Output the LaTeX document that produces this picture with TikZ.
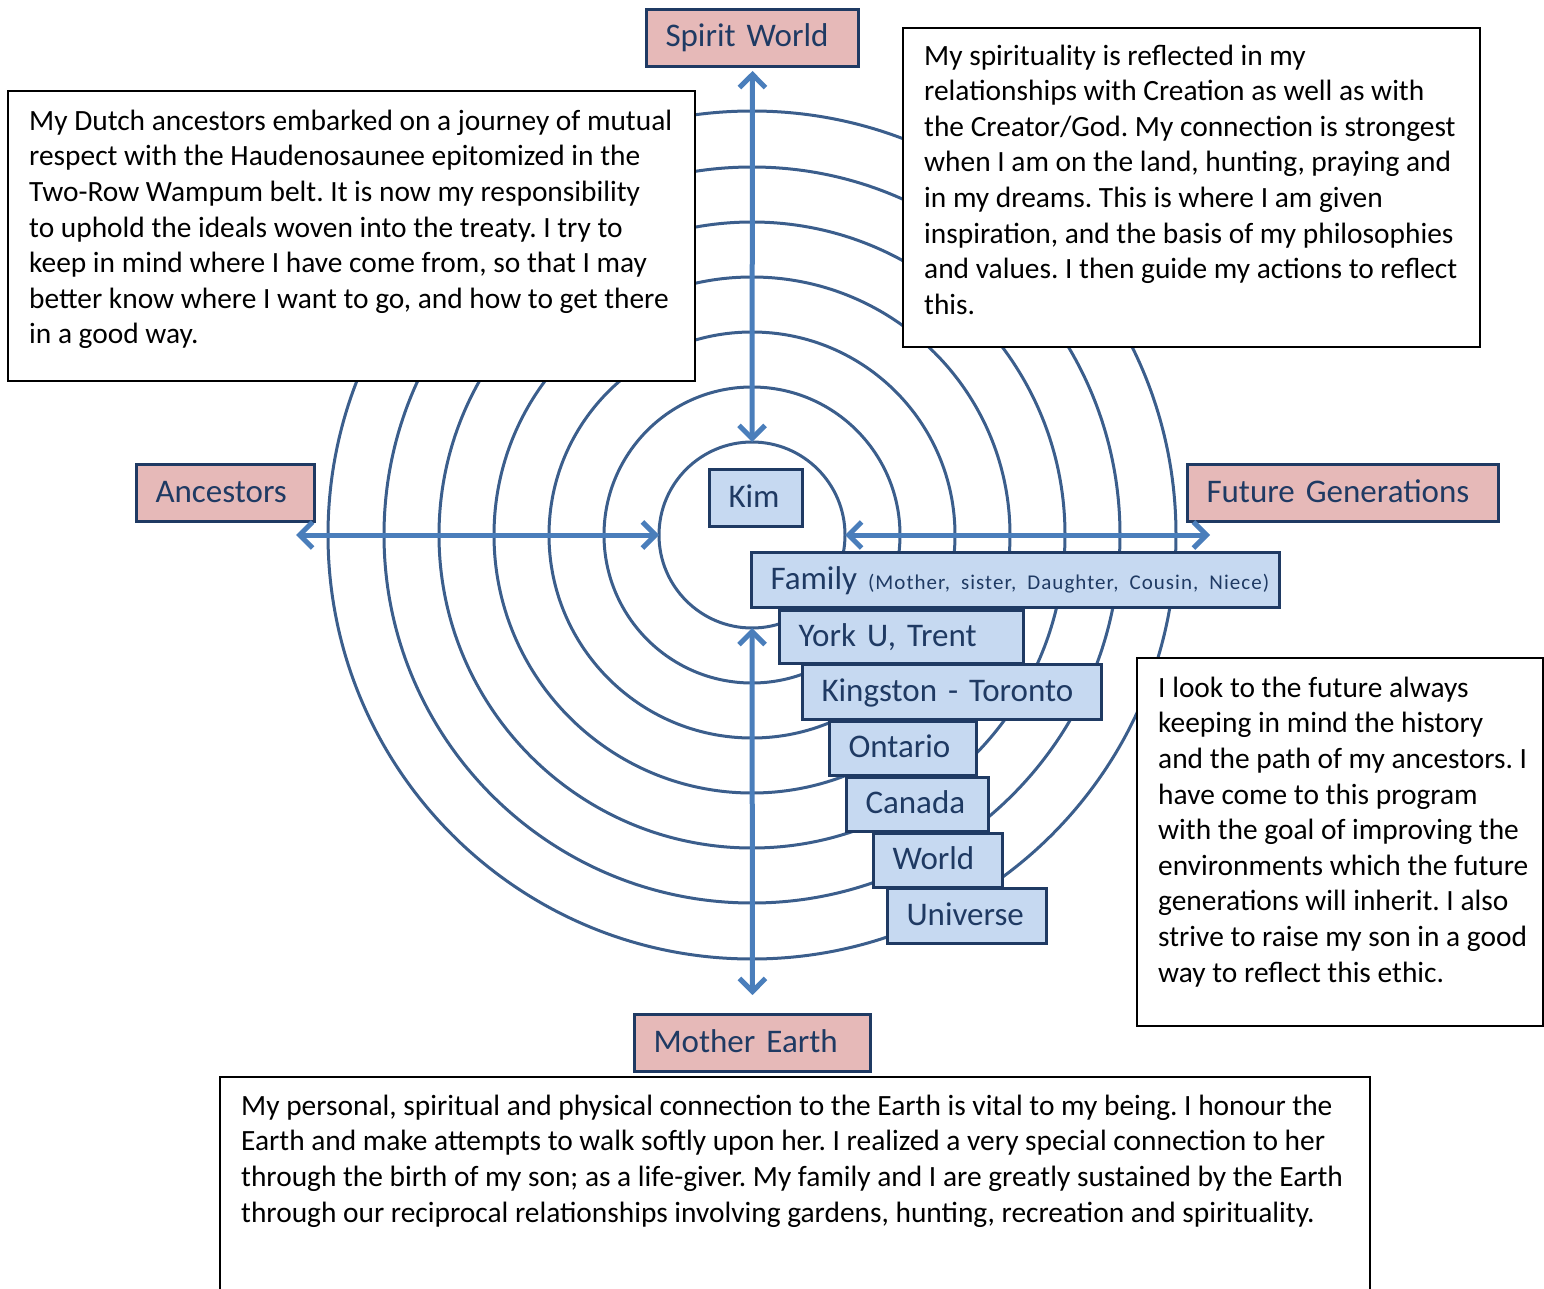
\documentclass[tikz,border=0pt]{standalone}
\usepackage{fontspec}
\setmainfont{Carlito}
\usepackage{tikz}
\usetikzlibrary{arrows.meta}
\definecolor{ringblue}{HTML}{3B5E8C}
\definecolor{arrowblue}{HTML}{4A7EBB}
\definecolor{navy}{HTML}{1F3A63}
\definecolor{pinkfill}{HTML}{E6B9B8}
\definecolor{bluefill}{HTML}{C6D9F1}
\hyphenpenalty=10000
\frenchspacing
\newcommand{\notestrut}{\rule{0pt}{24pt}}

\begin{document}
\begin{tikzpicture}[>={Straight Barb[length=13pt,width=26pt]},x=1pt,y=-1pt,
  every node/.style={font=\fontsize{29.4}{35.6}\selectfont},
  tagbox/.style={draw=navy,line width=3pt,text=navy,anchor=north west,align=left,
    inner xsep=19pt,inner ysep=0pt,text height=23pt,text depth=5pt,
    font=\fontsize{33}{40}\selectfont},
  pinktag/.style={tagbox,fill=pinkfill,minimum height=57pt},
  bluetag/.style={tagbox,fill=bluefill},
  note/.style={draw=black,line width=1.5pt,fill=white},
  notetext/.style={anchor=north west,align=left,inner sep=0pt},
  dbl/.style={<->,arrowblue,line width=5pt}]
\useasboundingbox (0,0) rectangle (1544,1289);

% Rings
\foreach \r in {93,148,203,258,313,368,424}
  \draw[ringblue,line width=3pt] (752,535) circle (\r pt);

% Axis arrows
\coordinate (ctop) at (752,442);
\coordinate (cbot) at (752,628);
\coordinate (cleft) at (659,535);
\coordinate (cright) at (845,535);
\coordinate (lend) at (296,535);
\coordinate (rend) at (1210,535);

% Direction labels
\node[pinktag,text width=174pt] (sw) at (645,8) {Spirit World};
\node[pinktag,text width=140pt] (anc) at (135,463) {Ancestors};
\node[pinktag,text width=273pt] (fut) at (1186,463) {Future Generations};
\node[pinktag,text width=198pt] (me) at (633,1013) {Mother Earth};

\draw[dbl] ([yshift=-3pt]sw.south) -- (ctop);
\draw[dbl] (cbot) -- ([yshift=18pt]me.north);
\draw[dbl] (lend) -- (cleft);
\draw[dbl] (cright) -- (rend);

% Notes
\draw[note] (8,91) rectangle (695,381);
\node[notetext] (dutch) at (29,106) {\notestrut My Dutch ancestors embarked on a journey of mutual\\
respect with the Haudenosaunee epitomized in the\\
Two-Row Wampum belt. It is now my responsibility\\
to uphold the ideals woven into the treaty. I try to\\
keep in mind where I have come from, so that I may\\
better know where I want to go, and how to get there\\
in a good way.};

\draw[note] (903,28) rectangle (1480,347);
\node[notetext] (spirit) at (924,41) {\notestrut My spirituality is reflected in my\\
relationships with Creation as well as with\\
the Creator/God. My connection is strongest\\
when I am on the land, hunting, praying and\\
in my dreams. This is where I am given\\
inspiration, and the basis of my philosophies\\
and values. I then guide my actions to reflect\\
this.};

\draw[note] (1137,658) rectangle (1543,1026);
\node[notetext] (future) at (1158,673) {\notestrut I look to the future always\\
keeping in mind the history\\
and the path of my ancestors. I\\
have come to this program\\
with the goal of improving the\\
environments which the future\\
generations will inherit. I also\\
strive to raise my son in a good\\
way to reflect this ethic.};

\draw[note] (220,1077) rectangle (1370,1300);
\node[notetext] (earth) at (241,1091) {\notestrut My personal, spiritual and physical connection to the Earth is vital to my being. I honour the\\
Earth and make attempts to walk softly upon her. I realized a very special connection to her\\
through the birth of my son; as a life-giver. My family and I are greatly sustained by the Earth\\
through our reciprocal relationships involving gardens, hunting, recreation and spirituality.};

% Circles of relation
\node[bluetag,text width=55pt,minimum height=57pt] (kim) at (708,468) {Kim};
\node[bluetag,text width=490pt,minimum height=55pt] (family) at (750,551)
  {\mbox{Family {\fontsize{21}{24}\selectfont\addfontfeatures{LetterSpace=5}(Mother, sister, Daughter, Cousin, Niece)}}};
\node[bluetag,text width=206pt,minimum height=53pt] (york) at (778,609) {York U, Trent};
\node[bluetag,text width=261pt,minimum height=55pt] (king) at (801,663) {Kingston - Toronto};
\node[bluetag,text width=109pt,minimum height=54pt] (ont) at (828,720) {Ontario};
\node[bluetag,text width=104pt,minimum height=54pt] (can) at (845,776) {Canada};
\node[bluetag,text width=91pt,minimum height=54pt] (world) at (872,832) {World};
\node[bluetag,text width=121pt,minimum height=55pt] (univ) at (886,887) {Universe};
\end{tikzpicture}
\end{document}
